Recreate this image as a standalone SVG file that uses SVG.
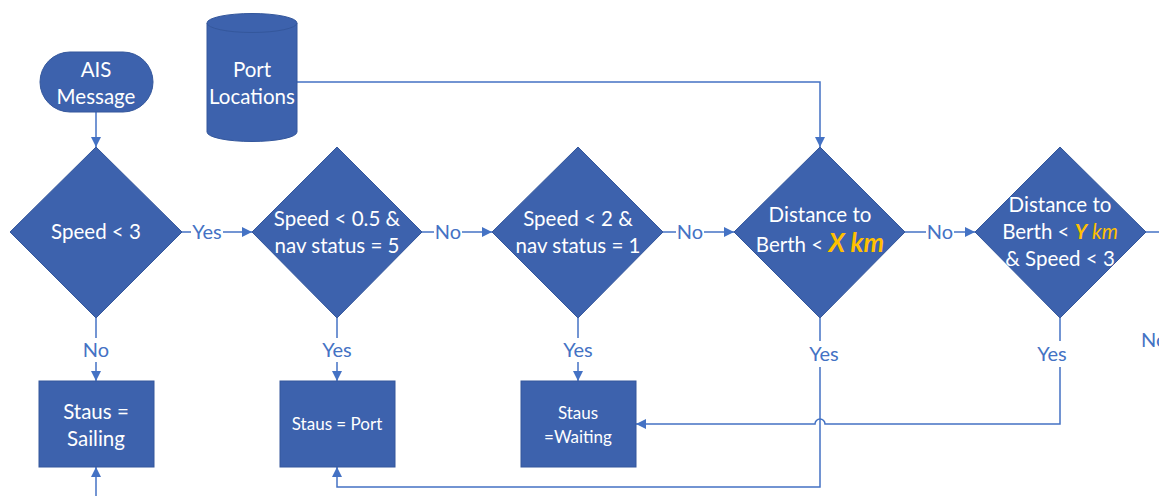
<svg xmlns="http://www.w3.org/2000/svg" width="1159" height="496" viewBox="0 0 1159 496">
<defs>
<style>
.shape{fill:#3D62AD;stroke:#34579C;stroke-width:1}
.t{font-family:Lato,"Open Sans",sans-serif;fill:#ffffff;text-anchor:middle;font-size:20.5px}
.ts{font-family:Lato,"Open Sans",sans-serif;fill:#ffffff;text-anchor:middle;font-size:17px}
.lbl{font-family:Lato,"Open Sans",sans-serif;fill:#4472C4;text-anchor:middle;font-size:20px}
.c{fill:none;stroke:#4472C4;stroke-width:1.5}
.y{fill:#FFC000;font-style:italic}
</style>
<marker id="ah" viewBox="0 0 10 10" refX="10" refY="5" markerWidth="10" markerHeight="10" markerUnits="userSpaceOnUse" orient="auto">
<path d="M0,0 L10,5 L0,10 z" fill="#4472C4"/>
</marker>
</defs>
<rect width="1159" height="496" fill="#ffffff"/>

<g id="connectors">
<path class="c" d="M96,112 V147" marker-end="url(#ah)"/>
<path class="c" d="M297,82 H820 V147" marker-end="url(#ah)"/>
<path class="c" d="M182,232 H191"/>
<path class="c" d="M223,232 H252" marker-end="url(#ah)"/>
<path class="c" d="M422,232 H434"/>
<path class="c" d="M462,232 H492" marker-end="url(#ah)"/>
<path class="c" d="M663,232 H676"/>
<path class="c" d="M704,232 H734" marker-end="url(#ah)"/>
<path class="c" d="M905,232 H926"/>
<path class="c" d="M954,232 H975" marker-end="url(#ah)"/>
<path class="c" d="M1146,232 H1159"/>
<path class="c" d="M96,318 V338"/>
<path class="c" d="M96,362 V381" marker-end="url(#ah)"/>
<path class="c" d="M337,318 V338"/>
<path class="c" d="M337,362 V381" marker-end="url(#ah)"/>
<path class="c" d="M578,318 V338"/>
<path class="c" d="M578,362 V381" marker-end="url(#ah)"/>
<path class="c" d="M820,318 V341"/>
<path class="c" d="M820,367 V487 H337 V467" marker-end="url(#ah)"/>
<path class="c" d="M1060,318 V341"/>
<path class="c" d="M1060,367 V424 H825 A5,5 0 0 0 815,424 H636" marker-end="url(#ah)"/>
<path class="c" d="M96,496 V467" marker-end="url(#ah)"/>
<text class="lbl" x="207" y="239">Yes</text>
<text class="lbl" x="448" y="239">No</text>
<text class="lbl" x="690" y="239">No</text>
<text class="lbl" x="940" y="239">No</text>
<text class="lbl" x="96" y="357">No</text>
<text class="lbl" x="337" y="357">Yes</text>
<text class="lbl" x="578" y="357">Yes</text>
<text class="lbl" x="824" y="361">Yes</text>
<text class="lbl" x="1052" y="361">Yes</text>
<text class="lbl" x="1141" y="347" style="text-anchor:start">No</text>
</g>

<g id="ais-message">
<rect class="shape" x="40" y="52" width="113" height="60" rx="30" ry="30"/>
<text class="t" x="96" y="77">AIS</text>
<text class="t" x="96" y="104">Message</text>
</g>

<g id="port-locations">
<path class="shape" d="M207,23 A45,9.5 0 0 1 297,23 V132 A45,9.5 0 0 1 207,132 Z"/>
<path d="M207,23 A45,9.5 0 0 0 297,23" fill="none" stroke="#34579C" stroke-width="1"/>
<text class="t" x="252" y="77">Port</text>
<text class="t" x="252" y="104">Locations</text>
</g>

<g id="speed-lt-3">
<polygon class="shape" points="96,147 182,232 96,318 10,232"/>
<text class="t" x="96" y="239">Speed &lt; 3</text>
</g>

<g id="speed-lt-05">
<polygon class="shape" points="337,147 422,232 337,318 252,232"/>
<text class="t" x="337" y="226">Speed &lt; 0.5 &amp;</text>
<text class="t" x="337" y="253">nav status = 5</text>
</g>

<g id="speed-lt-2">
<polygon class="shape" points="578,147 663,232 578,318 492,232"/>
<text class="t" x="578" y="226">Speed &lt; 2 &amp;</text>
<text class="t" x="578" y="253">nav status = 1</text>
</g>

<g id="distance-x">
<polygon class="shape" points="820,147 905,232 820,318 734,232"/>
<text class="t" x="820" y="222">Distance to</text>
<text class="t" x="820" y="252">Berth &lt; <tspan class="y" font-weight="bold" font-size="26px">X km</tspan></text>
</g>

<g id="distance-y">
<polygon class="shape" points="1060,147 1146,232 1060,318 975,232"/>
<text class="t" x="1060" y="212">Distance to</text>
<text class="t" x="1060" y="239">Berth &lt;  <tspan class="y" font-weight="bold">Y</tspan><tspan class="y"> km</tspan></text>
<text class="t" x="1060" y="266">&amp; Speed &lt; 3</text>
</g>

<g id="status-sailing">
<rect class="shape" x="39" y="381" width="115" height="86"/>
<text class="t" x="96" y="419">Staus =</text>
<text class="t" x="96" y="446">Sailing</text>
</g>

<g id="status-port">
<rect class="shape" x="280" y="381" width="115" height="86"/>
<text class="ts" x="337" y="430">Staus = Port</text>
</g>

<g id="status-waiting">
<rect class="shape" x="521" y="381" width="115" height="86"/>
<text class="ts" x="578" y="419">Staus</text>
<text class="ts" x="578" y="443">=Waiting</text>
</g>
</svg>
